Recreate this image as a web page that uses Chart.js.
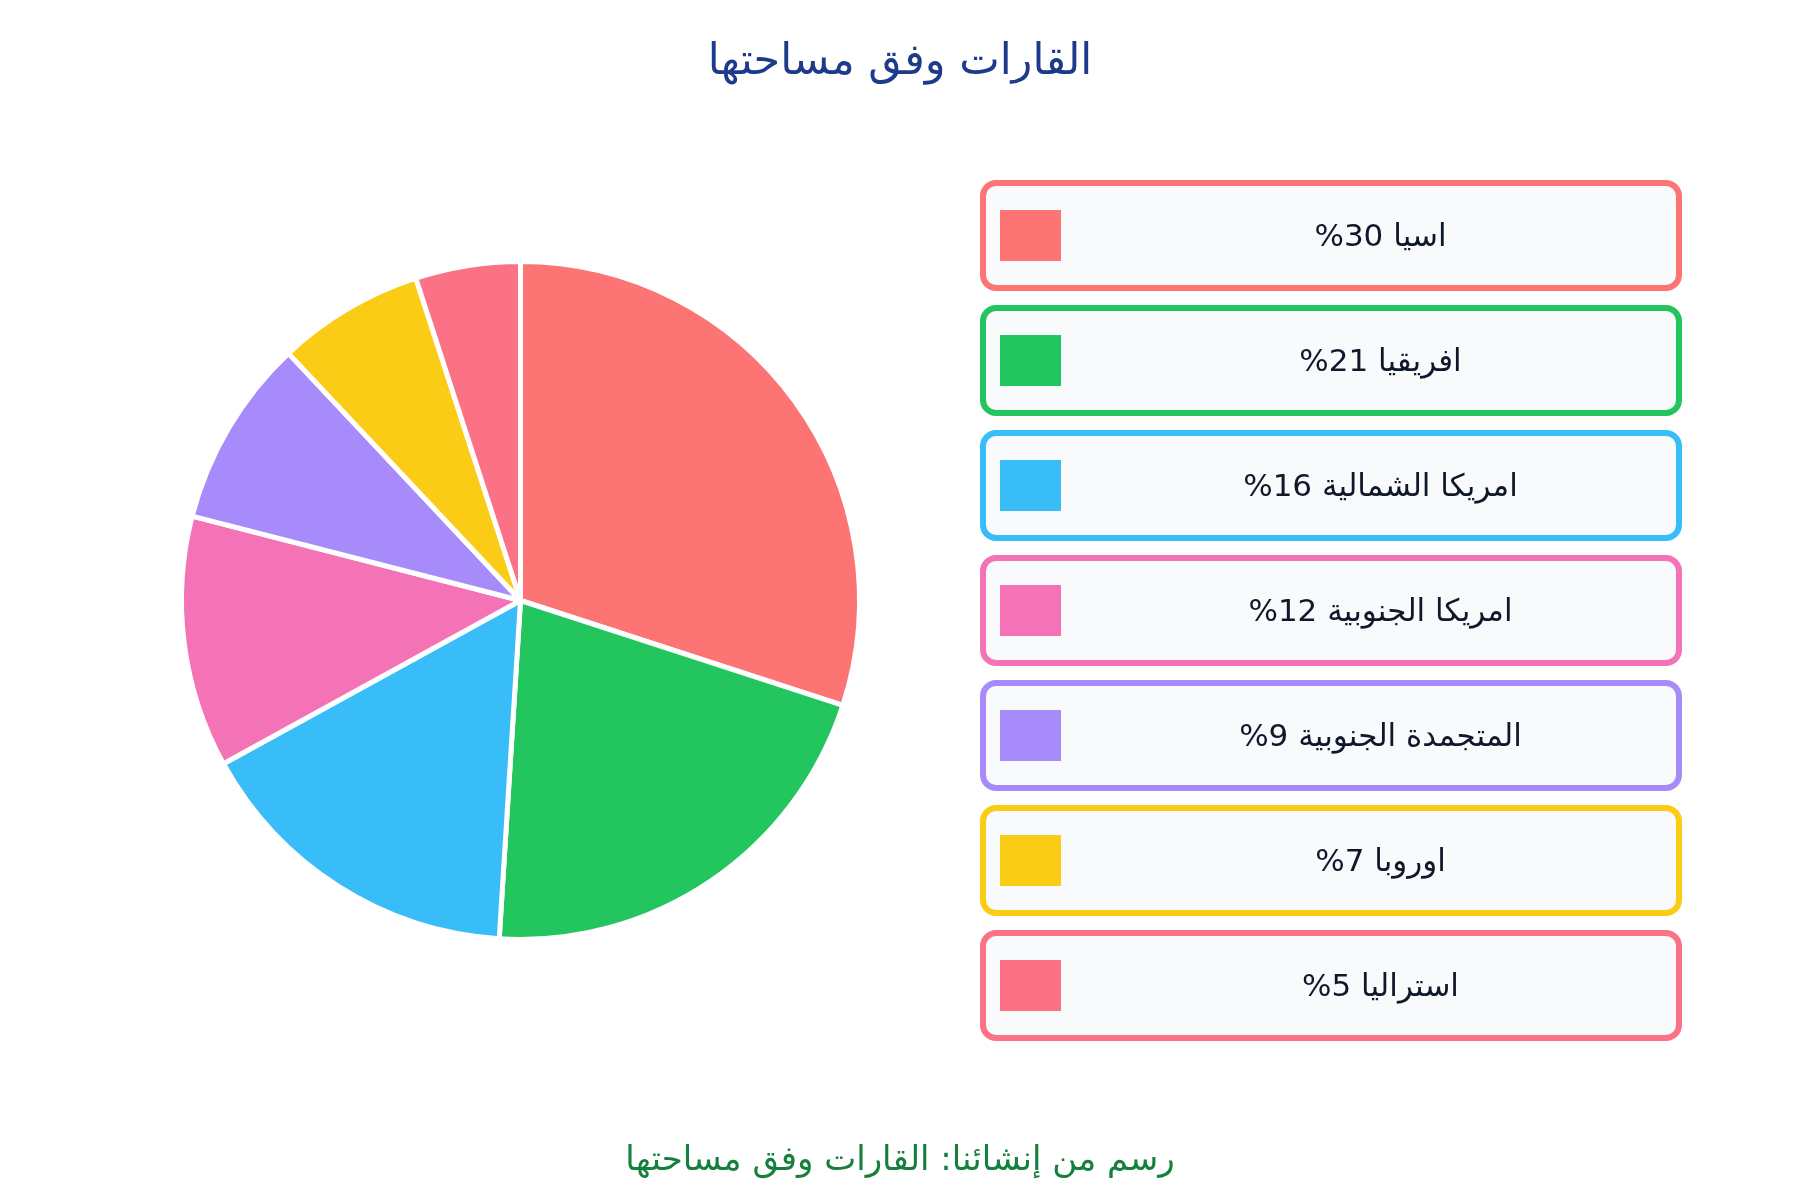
<!DOCTYPE html>
<html lang="ar">
<head>
<meta charset="utf-8">
<title>القارات وفق مساحتها</title>
<script src="https://cdn.jsdelivr.net/npm/chart.js@4/dist/chart.umd.min.js"></script>
<style>
    body { margin: 0; background: #fff; font-family: "DejaVu Sans", sans-serif; }
    #wrap { position: relative; width: 1800px; height: 1200px; }
    #pie { position: absolute; left: 0; top: 0; }
    .heading, .footer { position: absolute; left: 0; width: 1800px; text-align: center; direction: rtl; white-space: nowrap; }
    .heading { top: 29px; line-height: 60px; font-size: 43px; color: #1e3a8a; }
    .footer { top: 1128px; line-height: 60px; font-size: 34px; color: #15803d; }
    .card {
        position: absolute; left: 980px; width: 702px; height: 111px; box-sizing: border-box;
        border: 6px solid; border-radius: 16px; background: #f8fafc;
    }
    .swatch { position: absolute; left: 14px; top: 24px; width: 61px; height: 51px; }
    .name {
        position: absolute; left: 99px; right: 0; top: 0; line-height: 99px;
        text-align: center; font-size: 31px; color: #0f172a; direction: rtl;
    }
</style>
</head>
<body>
<div id="wrap">
    <canvas id="pie" width="1800" height="1200"></canvas>
</div>
<script>
const titleText = 'القارات وفق مساحتها';
const footerText = 'رسم من إنشائنا: القارات وفق مساحتها';
const continents = ['اسيا', 'افريقيا', 'امريكا الشمالية', 'امريكا الجنوبية', 'المتجمدة الجنوبية', 'اوروبا', 'استراليا'];
const shares = [30, 21, 16, 12, 9, 7, 5];
const colors = ['#fd7474', '#22c55e', '#38bdf8', '#f472b6', '#a78bfa', '#facc15', '#fb7185'];

new Chart(document.getElementById('pie'), {
    type: 'pie',
    data: {
        labels: continents,
        datasets: [{
            data: shares,
            backgroundColor: colors,
            borderColor: '#ffffff',
            borderWidth: 5
        }]
    },
    options: {
        responsive: false,
        animation: false,
        layout: { padding: { left: 179, right: 938, top: 259, bottom: 258 } },
        plugins: {
            legend: { display: false },
            tooltip: { enabled: false }
        }
    }
});

const wrap = document.getElementById('wrap');

function addText(cls, text) {
    const el = document.createElement('div');
    el.className = cls;
    el.textContent = text;
    wrap.append(el);
}
addText('heading', titleText);
addText('footer', footerText);

// legend cards next to the pie
continents.forEach((name, i) => {
    const card = document.createElement('div');
    card.className = 'card';
    card.style.top = (180 + i * 125) + 'px';
    card.style.borderColor = colors[i];
    const swatch = document.createElement('div');
    swatch.className = 'swatch';
    swatch.style.background = colors[i];
    const label = document.createElement('div');
    label.className = 'name';
    label.textContent = name + ' ' + shares[i] + '%';
    card.append(swatch, label);
    wrap.append(card);
});
</script>
</body>
</html>
